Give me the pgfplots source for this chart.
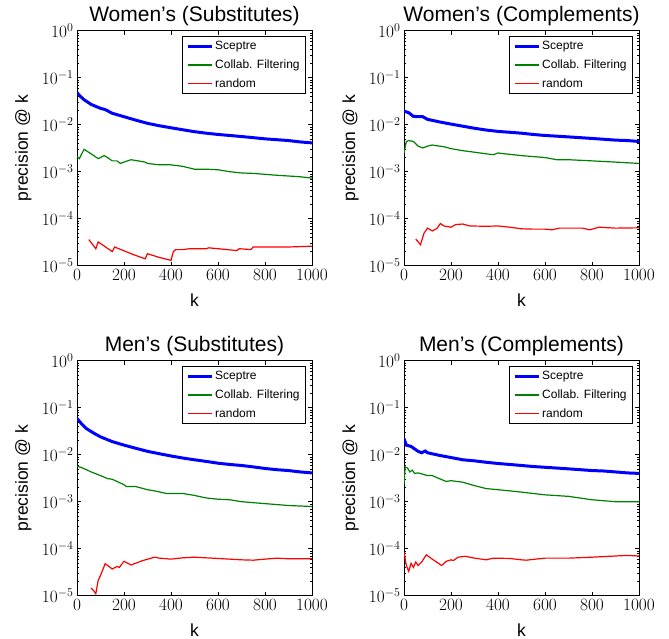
\documentclass[border=0pt]{standalone}
\usepackage{fontspec}
\newfontfamily\hv{Liberation Sans}
\usepackage{pgfplots}
\pgfplotsset{compat=1.18}

\definecolor{mplblue}{rgb}{0,0,1}
\definecolor{mplgreen}{rgb}{0,0.5,0}
\definecolor{mplred}{rgb}{1,0,0}

\pgfplotsset{
  mypanel/.style={
    scale only axis, width=235pt, height=235pt,
    anchor=north west,
    ymin=1e-5, ymax=1,
    xmin=0, xmax=1000,
    xtick={0,200,...,1000},
    ytick={1e-5,1e-4,1e-3,1e-2,1e-1,1},
    xticklabel style={/pgf/number format/set thousands separator={}},
    tick align=inside,
    major tick length=4pt, minor tick length=2pt,
    every tick/.style={black, line width=0.6pt},
    axis line style={line width=0.9pt},
    tick label style={font=\fontsize{17}{20}\selectfont},
    title style={font=\hv\fontsize{21}{25}\selectfont, at={(axis description cs:0.5,1)}, anchor=base, yshift=3pt},
    xlabel={k}, ylabel={precision @ k},
    label style={font=\hv\fontsize{17.5}{20}\selectfont},
    xlabel style={at={(axis description cs:0.5,0)}, anchor=base, yshift=-41pt},
    ylabel style={at={(axis description cs:0,0.5)}, anchor=base, yshift=49pt},
    legend cell align=left,
    legend style={at={(axis description cs:1,1)}, anchor=north east, xshift=-6pt, yshift=-5.5pt,
      font=\hv\fontsize{12}{14}\selectfont, draw=black, line width=0.7pt,
      inner xsep=4pt, inner ysep=3pt, row sep=4.5pt},
    legend image code/.code={\draw[##1] (0pt,0pt) -- (24pt,0pt);},
  },
}
% legend entries drawn with explicit colours
\newcommand\panellegend{%
  \addlegendimage{draw=mplblue, line width=3pt}
  \addlegendimage{draw=mplgreen, line width=1.2pt}
  \addlegendimage{draw=mplred, line width=1.2pt}
  \legend{Sceptre, Collab. Filtering, random}}

\begin{document}
\begin{tikzpicture}
\useasboundingbox (0,0) rectangle (669pt,-639pt);

% Women's (Substitutes)
\begin{semilogyaxis}[mypanel, at={(77pt,-30.7pt)}, title={Women’s (Substitutes)}]
\panellegend
\addplot[forget plot, draw=mplblue, line width=3pt] coordinates {(0,0.048) (10,0.042) (30,0.034) (60,0.027) (100,0.0223) (120,0.021) (150,0.0175) (200,0.0148) (250,0.0125) (300,0.0107) (350,0.0095) (400,0.0086) (450,0.0078) (500,0.0071) (550,0.0066) (600,0.0062) (650,0.0059) (700,0.0056) (750,0.0053) (800,0.005) (850,0.0048) (900,0.0046) (950,0.0043) (1000,0.0041)};
\addplot[forget plot, draw=mplgreen, line width=1.2pt] coordinates {(0,0.0021) (10,0.0019) (30,0.003) (60,0.0024) (90,0.0019) (100,0.002) (115,0.0022) (130,0.002) (150,0.0017) (170,0.0017) (185,0.0015) (200,0.0016) (230,0.0018) (260,0.0017) (290,0.0016) (300,0.0015) (350,0.0014) (400,0.0014) (450,0.0013) (500,0.00113) (550,0.00113) (600,0.0011) (650,0.001) (700,0.00094) (750,0.00092) (800,0.00088) (850,0.00084) (900,0.00081) (950,0.00078) (1000,0.00073)};
\addplot[forget plot, draw=mplred, line width=1.2pt] coordinates {(50,3.6e-5) (80,2.3e-5) (90,3.2e-5) (150,2.0e-5) (160,2.5e-5) (230,1.8e-5) (290,1.4e-5) (300,1.8e-5) (350,1.5e-5) (400,1.3e-5) (410,2.0e-5) (420,2.2e-5) (450,2.2e-5) (480,2.3e-5) (500,2.3e-5) (550,2.3e-5) (560,2.4e-5) (600,2.3e-5) (680,2.1e-5) (690,2.3e-5) (740,2.2e-5) (750,2.5e-5) (800,2.5e-5) (900,2.5e-5) (1000,2.6e-5)};
\end{semilogyaxis}

% Women's (Complements)
\begin{semilogyaxis}[mypanel, at={(404pt,-30.7pt)}, title={Women’s (Complements)}]
\panellegend
\addplot[forget plot, draw=mplblue, line width=3pt] coordinates {(0,0.0195) (20,0.018) (40,0.015) (80,0.0148) (100,0.013) (150,0.0115) (200,0.0103) (250,0.0093) (300,0.0084) (350,0.0077) (400,0.0072) (450,0.0069) (500,0.0066) (550,0.0062) (600,0.0059) (650,0.0057) (700,0.0055) (750,0.0053) (800,0.0051) (850,0.0049) (900,0.0047) (950,0.0046) (1000,0.0044)};
\addplot[forget plot, draw=mplgreen, line width=1.2pt] coordinates {(0,0.0025) (10,0.0044) (20,0.0046) (40,0.0044) (60,0.0035) (80,0.0032) (100,0.0035) (120,0.0037) (150,0.0035) (170,0.0034) (200,0.0031) (250,0.0028) (300,0.0026) (350,0.0024) (380,0.0023) (400,0.0025) (430,0.0024) (500,0.0022) (600,0.002) (650,0.0018) (700,0.0018) (800,0.0017) (900,0.0016) (1000,0.0015)};
\addplot[forget plot, draw=mplred, line width=1.2pt] coordinates {(50,3.7e-5) (70,2.8e-5) (85,4.9e-5) (100,6.3e-5) (120,5.5e-5) (140,6.2e-5) (155,7.9e-5) (170,7.0e-5) (200,6.6e-5) (220,7.5e-5) (250,7.7e-5) (280,7.0e-5) (350,6.9e-5) (400,7.0e-5) (450,6.6e-5) (500,6.1e-5) (550,6.0e-5) (600,6.0e-5) (630,5.8e-5) (660,6.3e-5) (700,6.3e-5) (760,6.3e-5) (790,5.8e-5) (830,6.6e-5) (900,6.3e-5) (1000,6.4e-5)};
\end{semilogyaxis}

% Men's (Substitutes)
\begin{semilogyaxis}[mypanel, at={(77pt,-360.7pt)}, title={Men’s (Substitutes)}]
\panellegend
\addplot[forget plot, draw=mplblue, line width=3pt] coordinates {(0,0.059) (20,0.045) (40,0.036) (70,0.029) (100,0.024) (150,0.019) (200,0.016) (250,0.0137) (300,0.0118) (350,0.0105) (400,0.0094) (450,0.0085) (500,0.0078) (550,0.0072) (600,0.0066) (650,0.0062) (700,0.0059) (750,0.0055) (800,0.0051) (850,0.0048) (900,0.0046) (950,0.0043) (1000,0.0041)};
\addplot[forget plot, draw=mplgreen, line width=1.2pt] coordinates {(0,0.0057) (20,0.0053) (40,0.0048) (60,0.0043) (100,0.0036) (130,0.0031) (150,0.003) (170,0.0027) (200,0.0023) (210,0.0021) (250,0.0021) (300,0.0018) (330,0.0017) (380,0.0015) (450,0.0015) (500,0.00136) (550,0.0012) (600,0.00113) (650,0.0011) (700,0.001) (800,0.00091) (900,0.00083) (1000,0.00079)};
\addplot[forget plot, draw=mplred, line width=1.2pt] coordinates {(60,1.45e-5) (70,1.3e-5) (80,1.1e-5) (90,2.1e-5) (100,2.7e-5) (120,4.8e-5) (130,4.4e-5) (150,3.7e-5) (170,4.2e-5) (180,4.0e-5) (200,5.4e-5) (230,4.5e-5) (280,5.6e-5) (330,6.6e-5) (350,6.3e-5) (400,6.0e-5) (450,6.4e-5) (500,6.6e-5) (600,6.2e-5) (700,5.8e-5) (750,5.7e-5) (800,6.0e-5) (850,6.3e-5) (900,6.1e-5) (1000,6.1e-5)};
\end{semilogyaxis}

% Men's (Complements)
\begin{semilogyaxis}[mypanel, at={(404pt,-360.7pt)}, title={Men’s (Complements)}]
\panellegend
\addplot[forget plot, draw=mplblue, line width=3pt] coordinates {(0,0.022) (10,0.016) (30,0.015) (60,0.0118) (75,0.011) (90,0.012) (100,0.011) (150,0.0097) (200,0.0087) (250,0.0078) (300,0.0074) (350,0.0069) (400,0.0065) (450,0.0062) (500,0.0059) (550,0.0056) (600,0.0054) (650,0.0052) (700,0.005) (750,0.0048) (800,0.0046) (850,0.0045) (900,0.0043) (950,0.0041) (1000,0.004)};
\addplot[forget plot, draw=mplgreen, line width=1.2pt] coordinates {(0,0.0024) (5,0.0055) (15,0.0052) (25,0.0043) (35,0.0047) (45,0.004) (60,0.0041) (100,0.0036) (120,0.0036) (150,0.0031) (180,0.0027) (200,0.0028) (250,0.0026) (300,0.0022) (350,0.0019) (400,0.0018) (450,0.0017) (500,0.0016) (600,0.0014) (700,0.0013) (800,0.0011) (900,0.001) (1000,0.001)};
\addplot[forget plot, draw=mplred, line width=1.2pt] coordinates {(0,8.4e-5) (10,4.4e-5) (20,3.3e-5) (30,4.9e-5) (40,4.0e-5) (50,5.2e-5) (60,4.4e-5) (75,5.2e-5) (95,7.4e-5) (120,6.0e-5) (160,4.4e-5) (180,5.4e-5) (200,5.8e-5) (210,5.6e-5) (230,6.6e-5) (260,6.9e-5) (300,6.3e-5) (350,5.8e-5) (380,6.3e-5) (450,6.2e-5) (500,5.8e-5) (520,5.7e-5) (600,6.3e-5) (700,6.3e-5) (800,6.6e-5) (900,7.0e-5) (950,7.2e-5) (1000,7.0e-5)};
\end{semilogyaxis}
\end{tikzpicture}
\end{document}
